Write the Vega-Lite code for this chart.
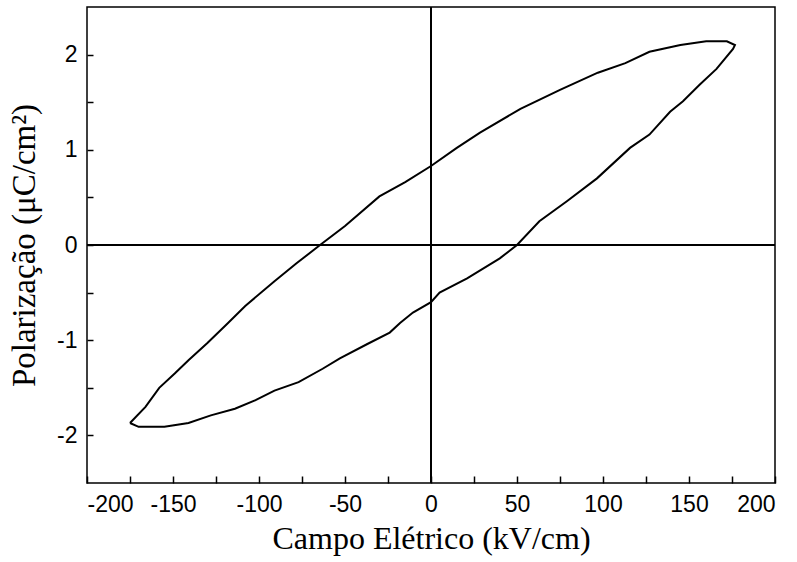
{
  "$schema": "https://vega.github.io/schema/vega-lite/v6.json",
  "autosize": "none",
  "width": 688,
  "height": 476,
  "padding": {"left": 87, "top": 7, "right": 22, "bottom": 79},
  "background": "white",
  "config": {
    "view": {"stroke": "black", "strokeWidth": 1.5},
    "axis": {
      "domain": false,
      "grid": false,
      "tickColor": "black",
      "tickWidth": 1.5,
      "labelColor": "black",
      "labelFont": "Liberation Sans",
      "labelFontSize": 23,
      "titleFont": "Liberation Serif",
      "titleFontWeight": "normal",
      "titleColor": "black"
    }
  },
  "data": {
    "values": [
      {"E": -175, "P": -1.87, "o": 1},
      {"E": -166, "P": -1.70, "o": 2},
      {"E": -158, "P": -1.50, "o": 3},
      {"E": -149, "P": -1.35, "o": 4},
      {"E": -141, "P": -1.21, "o": 5},
      {"E": -130, "P": -1.03, "o": 6},
      {"E": -118, "P": -0.82, "o": 7},
      {"E": -108, "P": -0.64, "o": 8},
      {"E": -91, "P": -0.38, "o": 9},
      {"E": -78, "P": -0.19, "o": 10},
      {"E": -64.5, "P": 0.0, "o": 11},
      {"E": -50, "P": 0.20, "o": 12},
      {"E": -30, "P": 0.51, "o": 13},
      {"E": -15, "P": 0.66, "o": 14},
      {"E": 0, "P": 0.83, "o": 15},
      {"E": 15, "P": 1.02, "o": 16},
      {"E": 28.5, "P": 1.18, "o": 17},
      {"E": 52, "P": 1.43, "o": 18},
      {"E": 75, "P": 1.63, "o": 19},
      {"E": 97, "P": 1.81, "o": 20},
      {"E": 113, "P": 1.91, "o": 21},
      {"E": 127, "P": 2.03, "o": 22},
      {"E": 145, "P": 2.10, "o": 23},
      {"E": 160, "P": 2.14, "o": 24},
      {"E": 172, "P": 2.14, "o": 25},
      {"E": 176.7, "P": 2.10, "o": 26},
      {"E": 175.6, "P": 2.06, "o": 27},
      {"E": 166, "P": 1.85, "o": 28},
      {"E": 156, "P": 1.68, "o": 29},
      {"E": 146.5, "P": 1.51, "o": 30},
      {"E": 139, "P": 1.40, "o": 31},
      {"E": 127, "P": 1.16, "o": 32},
      {"E": 115.7, "P": 1.02, "o": 33},
      {"E": 96.5, "P": 0.70, "o": 34},
      {"E": 79, "P": 0.46, "o": 35},
      {"E": 63, "P": 0.25, "o": 36},
      {"E": 50, "P": 0.0, "o": 37},
      {"E": 40, "P": -0.14, "o": 38},
      {"E": 21, "P": -0.35, "o": 39},
      {"E": 5, "P": -0.50, "o": 40},
      {"E": 0, "P": -0.60, "o": 41},
      {"E": -10.5, "P": -0.71, "o": 42},
      {"E": -18, "P": -0.82, "o": 43},
      {"E": -24, "P": -0.92, "o": 44},
      {"E": -37, "P": -1.04, "o": 45},
      {"E": -53, "P": -1.19, "o": 46},
      {"E": -63, "P": -1.30, "o": 47},
      {"E": -77, "P": -1.44, "o": 48},
      {"E": -91, "P": -1.53, "o": 49},
      {"E": -102, "P": -1.63, "o": 50},
      {"E": -114, "P": -1.72, "o": 51},
      {"E": -128, "P": -1.79, "o": 52},
      {"E": -141, "P": -1.87, "o": 53},
      {"E": -155, "P": -1.91, "o": 54},
      {"E": -165, "P": -1.91, "o": 55},
      {"E": -170, "P": -1.91, "o": 56},
      {"E": -175, "P": -1.87, "o": 57}
    ]
  },
  "layer": [
    {
      "mark": {"type": "rule", "color": "black", "strokeWidth": 1.2},
      "encoding": {"y": {"datum": 0, "type": "quantitative"}}
    },
    {
      "mark": {"type": "rule", "color": "black", "strokeWidth": 1.2},
      "encoding": {"x": {"datum": 0, "type": "quantitative"}}
    },
    {
      "mark": {"type": "line", "color": "black", "strokeWidth": 2},
      "encoding": {
        "x": {
          "field": "E",
          "type": "quantitative",
          "scale": {"domain": [-200, 200], "nice": false, "zero": false},
          "axis": {
            "values": [-200, -175, -150, -125, -100, -75, -50, -25, 0, 25, 50, 75, 100, 125, 150, 175, 200],
            "labelExpr": "datum.value % 50 === 0 ? toString(datum.value) : ''",
            "tickSize": -7,
            "labelPadding": 17,
            "title": "Campo Elétrico (kV/cm)",
            "titleFontSize": 32,
            "titlePadding": 7
          }
        },
        "y": {
          "field": "P",
          "type": "quantitative",
          "scale": {"domain": [-2.5, 2.5], "nice": false, "zero": false},
          "axis": {
            "values": [-2, -1.5, -1, -0.5, 0, 0.5, 1, 1.5, 2],
            "labelExpr": "datum.value % 1 === 0 ? toString(datum.value) : ''",
            "tickSize": -6,
            "labelPadding": 16,
            "title": "Polarização (μC/cm²)",
            "titleFontSize": 33,
            "titlePadding": 15
          }
        },
        "order": {"field": "o", "type": "quantitative"}
      }
    }
  ]
}
